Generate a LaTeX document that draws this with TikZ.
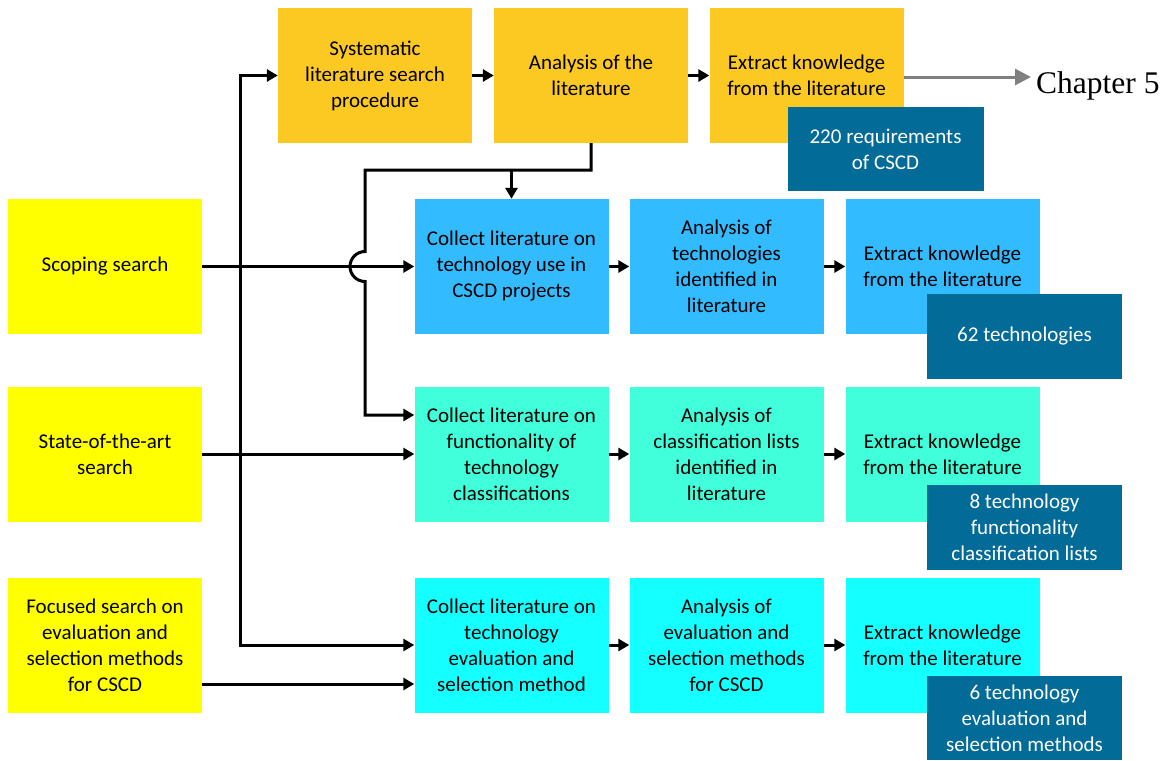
\documentclass[tikz,border=0pt]{standalone}
\usepackage{fontspec}
\setmainfont{Carlito}
\newfontfamily\chapfont{Liberation Serif}
\usetikzlibrary{arrows.meta,calc}

\definecolor{procOrange}{RGB}{252,201,35}
\definecolor{srcYellow}{RGB}{255,255,0}
\definecolor{techBlue}{RGB}{51,187,255}
\definecolor{classAqua}{RGB}{64,255,218}
\definecolor{evalCyan}{RGB}{20,255,255}
\definecolor{resultBlue}{RGB}{2,107,152}
\definecolor{chapGray}{RGB}{128,128,128}

\begin{document}
\begin{tikzpicture}[x=1pt,y=-1pt,
  box/.style={rectangle, inner sep=0pt, minimum width=194pt, minimum height=135pt,
    align=center, font=\fontsize{21}{26}\selectfont, text=black},
  proc/.style={box, fill=procOrange},
  src/.style={box, fill=srcYellow},
  tech/.style={box, fill=techBlue},
  cls/.style={box, fill=classAqua},
  evl/.style={box, fill=evalCyan},
  result/.style={box, fill=resultBlue, text=white, minimum width=195pt, minimum height=85pt},
  conn/.style={line width=3pt, draw=black},
  arr/.style={conn, -{Triangle[length=11pt,width=12pt]}},
  twoway/.style={conn, {Triangle[length=11pt,width=12pt]}-{Triangle[length=11pt,width=12pt]}},
  grayarr/.style={line width=3pt, draw=chapGray, -{Triangle[length=16pt,width=16pt]}}
]
\useasboundingbox (0,0) rectangle (1166,760);

% systematic literature row
\node[proc] (A1) at (375,75.5) {Systematic\\literature search\\procedure};
\node[proc] (A2) at (591,75.5) {Analysis of the\\literature};
\node[proc] (A3) at (806.5,75.5) {Extract knowledge\\from the literature};
\node[result, minimum width=196pt, minimum height=84pt] (R1) at (885.5,149) {220 requirements\\of CSCD};

% search types
\node[src] (S1) at (105,266.5) {Scoping search};
\node[src] (S2) at (105,454) {State-of-the-art\\search};
\node[src] (S3) at (105,645) {Focused search on\\evaluation and\\selection methods\\for CSCD};

% technology row
\node[tech] (B1) at (511.5,266.5) {Collect literature on\\technology use in\\CSCD projects};
\node[tech] (B2) at (726.5,266.5) {Analysis of\\technologies\\identified in\\literature};
\node[tech] (B3) at (942.5,266.5) {Extract knowledge\\from the literature};
\node[result] (R2) at (1024.5,336) {62 technologies};

% classification row
\node[cls] (C1) at (511.5,454) {Collect literature on\\functionality of\\technology\\classifications};
\node[cls] (C2) at (726.5,454) {Analysis of\\classification lists\\identified in\\literature};
\node[cls] (C3) at (942.5,454) {Extract knowledge\\from the literature};
\node[result] (R3) at (1024.5,527.5) {8 technology\\functionality\\classification lists};

% evaluation row
\node[evl] (D1) at (511.5,645) {Collect literature on\\technology\\evaluation and\\selection method};
\node[evl] (D2) at (726.5,645) {Analysis of\\evaluation and\\selection methods\\for CSCD};
\node[evl] (D3) at (942.5,645) {Extract knowledge\\from the literature};
\node[result, minimum height=84pt] (R4) at (1024.5,718) {6 technology\\evaluation and\\selection methods};

% chapter reference
\node[inner sep=0pt, anchor=base west, font=\chapfont\fontsize{31.5}{36}\selectfont] (ch5) at (1036,93) {Chapter 5};
\coordinate (ch5tip) at (1031,77);
\draw[grayarr] (A3.east |- ch5tip) -- (ch5tip);

% arrows along each row
\draw[arr] (A1.east) -- (A2.west);
\draw[arr] (A2.east) -- (A3.west);
\draw[arr] (B1.east) -- (B2.west);
\draw[arr] (B2.east) -- (B3.west);
\draw[arr] (C1.east) -- (C2.west);
\draw[arr] (C2.east) -- (C3.west);
\draw[arr] (D1.east) -- (D2.west);
\draw[arr] (D2.east) -- (D3.west);

% trunk feeding the systematic search and the evaluation collection
\coordinate (trunk) at (240,0);
\draw[twoway] (A1.west) -| (trunk |- D1.west) -- (D1.west);

% search inputs
\draw[arr] (S1.east) -- (B1.west);
\draw[arr] (S2.east) -- (C1.west);
\coordinate (S3out) at ($(S3.east)+(0,39)$);
\draw[arr] (S3out) -- (S3out -| D1.west);

% literature analysis branching to the collection steps, hopping over the scoping line
\coordinate (bend) at (365,170);
\coordinate (hopTop) at ($(bend |- S1.east)+(0,-15)$);
\coordinate (C1in) at ($(C1.west)+(0,-39)$);
\draw[arr] (A2.south) |- (bend) -- (hopTop)
  arc[start angle=270, end angle=90, radius=15] -- (bend |- C1in) -- (C1in);
\draw[arr] (B1.north |- bend) -- (B1.north);
\end{tikzpicture}
\end{document}
